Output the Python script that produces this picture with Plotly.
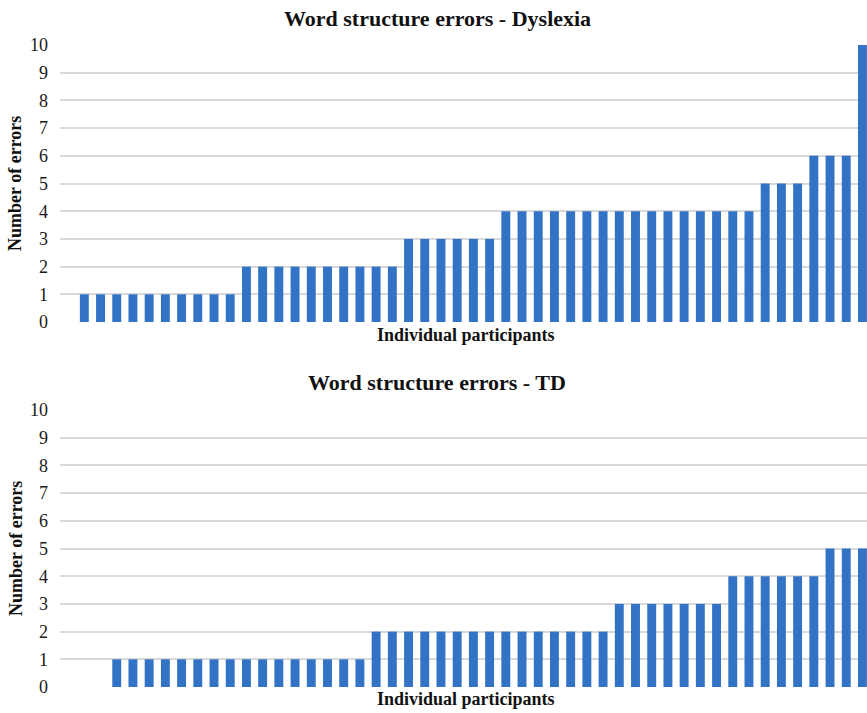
import plotly.graph_objects as go
from plotly.subplots import make_subplots

participants = list(range(1, 51))
dyslexia_errors = [0] + [1]*10 + [2]*10 + [3]*6 + [4]*16 + [5]*3 + [6]*3 + [10]
td_errors = [0]*3 + [1]*16 + [2]*15 + [3]*7 + [4]*6 + [5]*3
y_ticks = list(range(0, 11))

W, H = 867, 713
SERIF = "Liberation Serif, Times New Roman, serif"
BAR = "#3273c6"
GRID = "#d9d9d9"
L = 60

def py(pix):
    return (H - pix) / H

def px(pix):
    return (pix - L) / (W - L)

fig = make_subplots(rows=2, cols=1)
fig.add_trace(go.Bar(x=participants, y=dyslexia_errors, marker=dict(color=BAR, line=dict(width=0))), row=1, col=1)
fig.add_trace(go.Bar(x=participants, y=td_errors, marker=dict(color=BAR, line=dict(width=0))), row=2, col=1)

x_range = [0.5, 50.28]
for i, (top, bot) in enumerate([(45, 322), (410, 687)], start=1):
    xa = "xaxis" if i == 1 else f"xaxis{i}"
    ya = "yaxis" if i == 1 else f"yaxis{i}"
    fig.layout[xa].update(domain=[0, 1], range=x_range, showticklabels=False, showgrid=False,
                          zeroline=False, showline=False, ticks="", automargin=False)
    fig.layout[ya].update(domain=[py(bot), py(top)], range=[0, 10], tickvals=y_ticks,
                          showgrid=True, gridcolor=GRID, gridwidth=1.5, zeroline=False,
                          showline=False, ticks="", ticklabelstandoff=11, automargin=False,
                          tickfont=dict(family=SERIF, size=18, color="#1a1a1a"))

annos = [
    ("Word structure errors - Dyslexia", 437, 18, 22),
    ("Individual participants", 466, 335, 18),
    ("Word structure errors - TD", 437, 383, 22),
    ("Individual participants", 466, 699, 18),
]
for text, x, y, size in annos:
    fig.add_annotation(text=f"<b>{text}</b>", xref="paper", yref="paper",
                       x=px(x), y=py(y), xanchor="center", yanchor="middle",
                       showarrow=False, font=dict(family=SERIF, size=size, color="#111"))
for y in [(45 + 322) / 2 + 0, (410 + 687) / 2]:
    fig.add_annotation(text="<b>Number of errors</b>", xref="paper", yref="paper",
                       x=px(15.5), y=py(y), xanchor="center", yanchor="middle",
                       textangle=-90, showarrow=False,
                       font=dict(family=SERIF, size=18, color="#111"))

fig.update_layout(template="none", width=W, height=H,
                  margin=dict(l=L, r=0, t=0, b=0, pad=0, autoexpand=False),
                  paper_bgcolor="white", plot_bgcolor="white", showlegend=False,
                  bargap=0.45)
fig.write_html("out.html", config={"displayModeBar": False},
               post_script="document.body.style.margin='0';document.body.style.overflow='hidden';")
